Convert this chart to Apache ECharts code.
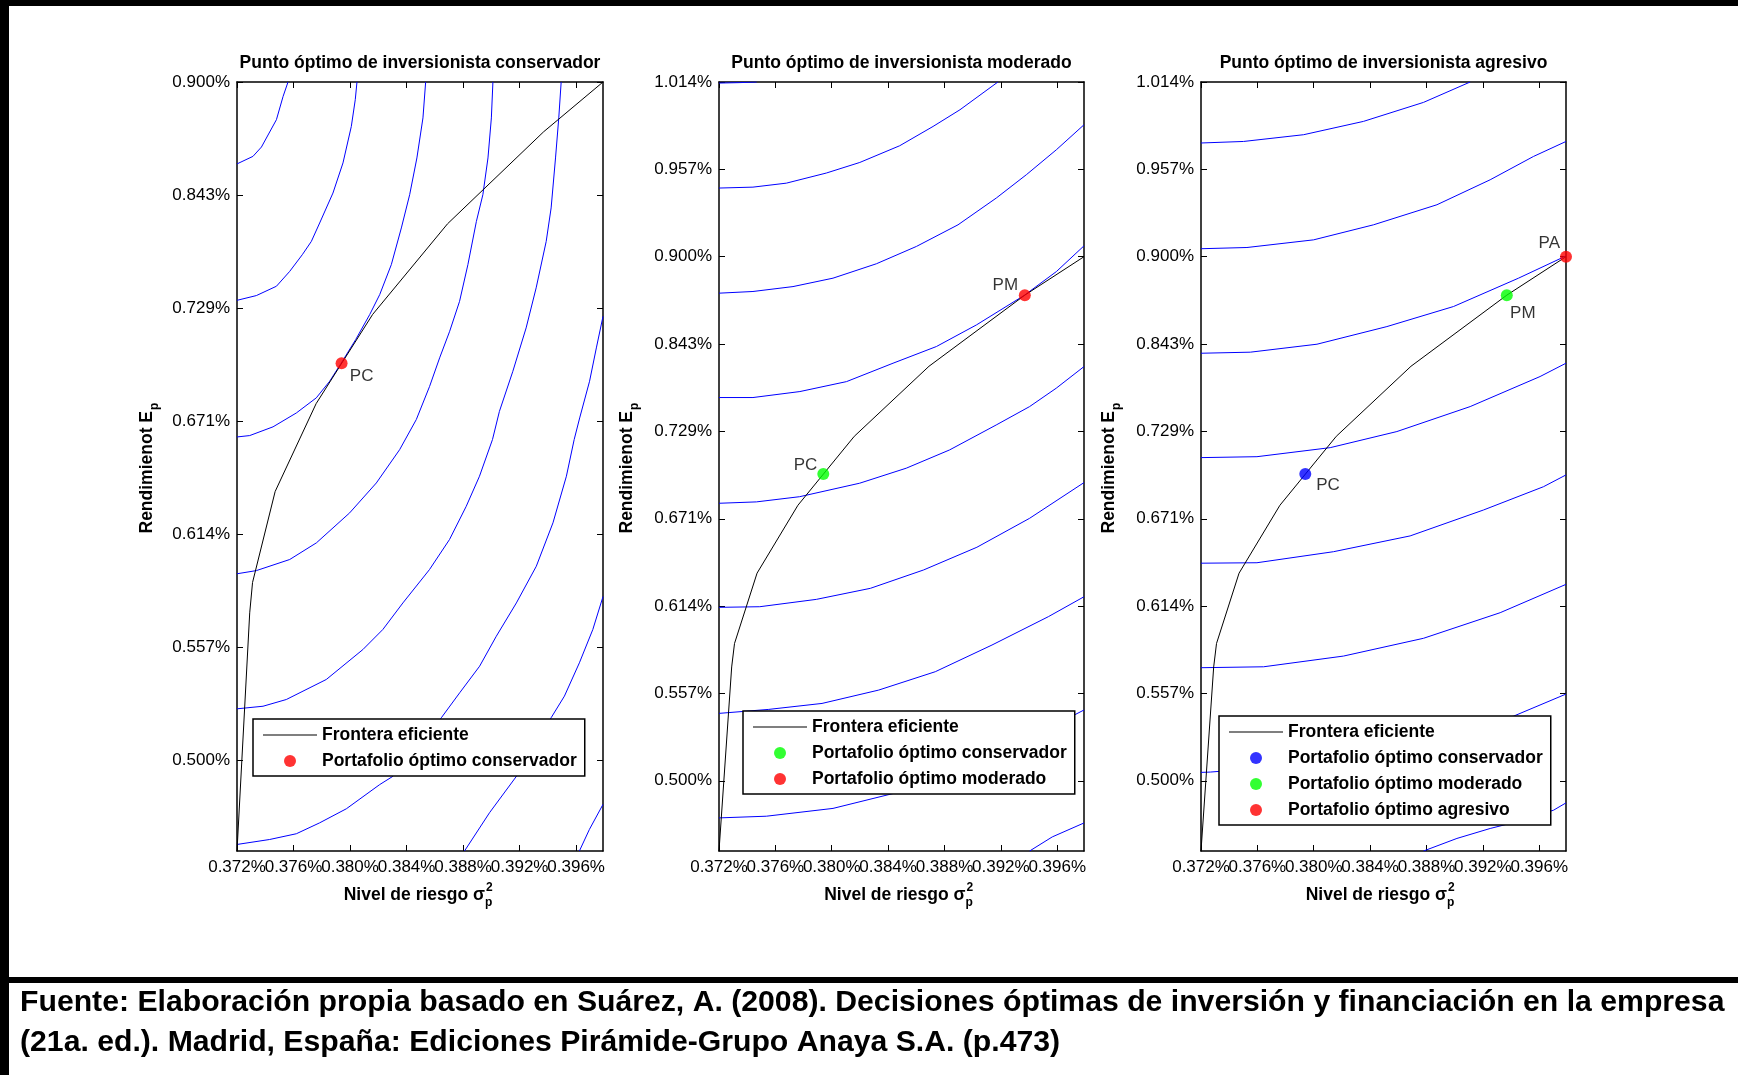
<!DOCTYPE html>
<html>
<head>
<meta charset="utf-8">
<script src="https://cdn.jsdelivr.net/npm/echarts@6/dist/echarts.min.js"></script>
<style>
  html, body { margin: 0; padding: 0; background: #ffffff; }
  #chart { width: 1738px; height: 1075px; }
</style>
</head>
<body>
<div id="chart"></div>
<script>
// ---------------------------------------------------------------
// Riesgo (eje X), común a los tres paneles
// ---------------------------------------------------------------
const riesgoMin = 0.372;
const riesgoMax = 0.3979;
const riesgoTicks = [0.372, 0.376, 0.380, 0.384, 0.388, 0.392, 0.396];
const riesgoEtiquetas = ['0.372%', '0.376%', '0.380%', '0.384%', '0.388%', '0.392%', '0.396%'];

// ---------------------------------------------------------------
// Rendimiento (eje Y)
// ---------------------------------------------------------------
const rendMin = 0.5122;
const rendMaxConservador = 0.900;
const rendMaxModerado = 1.014;
const rendTicksConservador = [0.558, 0.615, 0.672, 0.729, 0.786, 0.843, 0.900];
const rendEtiquetasConservador = ['0.500%', '0.557%', '0.614%', '0.671%', '0.729%', '0.843%', '0.900%'];
const rendTicksModerado = [0.558, 0.615, 0.672, 0.729, 0.786, 0.843, 0.900, 0.957, 1.014];
const rendEtiquetasModerado = ['0.500%', '0.557%', '0.614%', '0.671%', '0.729%', '0.843%', '0.900%', '0.957%', '1.014%'];

// ---------------------------------------------------------------
// Frontera eficiente (riesgo, rendimiento)
// ---------------------------------------------------------------
const fronteraRiesgo  = [0.3720, 0.3729, 0.3731, 0.3747, 0.3776, 0.3816, 0.3869, 0.3937, 0.3979];
const fronteraRetorno = [0.5122, 0.6323, 0.6476, 0.6935, 0.7378, 0.7828, 0.8285, 0.8749, 0.9000];

// Portafolios óptimos
const puntoPC = [0.3794, 0.7582];
const puntoPM = [0.3937, 0.8749];
const puntoPA = [0.3979, 0.9000];

// ---------------------------------------------------------------
// Curvas de indiferencia: inversionista conservador
// ---------------------------------------------------------------
const curvasConservador = [
  [[0.3720,0.8587],[0.37313,0.8625],[0.37373,0.8672],[0.37479,0.8810],[0.37526,0.8927],[0.37561,0.9000]],
  [[0.3720,0.7899],[0.37337,0.7923],[0.37479,0.7970],[0.37573,0.8045],[0.37662,0.8129],[0.37726,0.8196],[0.37785,0.8289],[0.37879,0.8440],[0.37950,0.8592],[0.38009,0.8776],[0.38037,0.8911],[0.38049,0.9000]],
  [[0.3720,0.7210],[0.37290,0.7217],[0.37455,0.7261],[0.37620,0.7331],[0.37761,0.7407],[0.37856,0.7491],[0.37938,0.7583],[0.38040,0.7701],[0.38139,0.7827],[0.38210,0.7928],[0.38292,0.8079],[0.38363,0.8264],[0.38422,0.8432],[0.38473,0.8617],[0.38516,0.8819],[0.38535,0.9000]],
  [[0.3720,0.6520],[0.37337,0.6536],[0.37573,0.6592],[0.37762,0.6676],[0.37997,0.6827],[0.38186,0.6978],[0.38351,0.7146],[0.38469,0.7298],[0.38563,0.7465],[0.38634,0.7609],[0.38705,0.7743],[0.38775,0.7894],[0.38834,0.8079],[0.38894,0.8297],[0.38940,0.8432],[0.38976,0.8617],[0.39000,0.8819],[0.39011,0.9000]],
  [[0.3720,0.5839],[0.37384,0.5852],[0.37549,0.5886],[0.37832,0.5987],[0.38091,0.6138],[0.38232,0.6239],[0.38374,0.6373],[0.38562,0.6541],[0.38704,0.6693],[0.38822,0.6860],[0.38916,0.7012],[0.39008,0.7197],[0.39057,0.7339],[0.39152,0.7541],[0.39246,0.7760],[0.39317,0.7962],[0.39388,0.8196],[0.39423,0.8365],[0.39454,0.8617],[0.39477,0.8819],[0.39494,0.9000]],
  [[0.3720,0.5155],[0.37431,0.5180],[0.37620,0.5209],[0.37785,0.5264],[0.37974,0.5335],[0.38210,0.5457],[0.38304,0.5499],[0.38479,0.5634],[0.38646,0.5794],[0.38776,0.5920],[0.38917,0.6054],[0.39035,0.6205],[0.39177,0.6373],[0.39318,0.6558],[0.39436,0.6777],[0.39531,0.7012],[0.39586,0.7197],[0.39625,0.7306],[0.39695,0.7491],[0.39743,0.7659],[0.39790,0.7818]],
  [[0.38810,0.5122],[0.38987,0.5315],[0.39187,0.5508],[0.39305,0.5649],[0.39423,0.5794],[0.39517,0.5903],[0.39623,0.6071],[0.39718,0.6239],[0.39790,0.6405]],
  [[0.39623,0.5122],[0.39694,0.5231],[0.39790,0.5357]]
];

// Curvas de indiferencia: inversionista moderado
const curvasModerado = [
  [[0.3720,1.0133],[0.37347,1.0136],[0.37467,1.0140]],
  [[0.3720,0.9448],[0.37441,0.9454],[0.37678,0.9480],[0.37962,0.9546],[0.38199,0.9615],[0.38482,0.9724],[0.38719,0.9850],[0.38910,0.9959],[0.39179,1.0140]],
  [[0.3720,0.8762],[0.37441,0.8773],[0.37725,0.8805],[0.38009,0.8860],[0.38317,0.8954],[0.38601,0.9067],[0.38896,0.9208],[0.39168,0.9383],[0.39381,0.9535],[0.39594,0.9698],[0.39790,0.9861]],
  [[0.3720,0.8081],[0.37441,0.8081],[0.37774,0.8120],[0.38105,0.8185],[0.38435,0.8305],[0.38743,0.8414],[0.39027,0.8555],[0.39368,0.8749],[0.39594,0.8903],[0.39790,0.9071]],
  [[0.3720,0.7391],[0.37465,0.7400],[0.37772,0.7434],[0.38198,0.7522],[0.38529,0.7620],[0.38836,0.7739],[0.39167,0.7902],[0.39404,0.8022],[0.39593,0.8142],[0.39790,0.8283]],
  [[0.3720,0.6712],[0.37489,0.6716],[0.37891,0.6764],[0.38274,0.6836],[0.38652,0.6956],[0.39030,0.7104],[0.39404,0.7293],[0.39790,0.7526]],
  [[0.3720,0.6020],[0.37553,0.6046],[0.37931,0.6085],[0.38333,0.6172],[0.38735,0.6292],[0.39137,0.6466],[0.39537,0.6651],[0.39790,0.6781]],
  [[0.3720,0.5338],[0.37536,0.5349],[0.38009,0.5400],[0.38435,0.5497],[0.38837,0.5637],[0.39263,0.5793],[0.39790,0.6042]],
  [[0.39404,0.5122],[0.39565,0.5214],[0.39790,0.5305]]
];

// Curvas de indiferencia: inversionista agresivo
const curvasAgresivo = [
  [[0.3720,0.9742],[0.37502,0.9752],[0.37928,0.9796],[0.38353,0.9883],[0.38779,1.0007],[0.39110,1.0140]],
  [[0.3720,0.9052],[0.37526,0.9060],[0.37999,0.9110],[0.38424,0.9208],[0.38874,0.9339],[0.39252,0.9502],[0.39559,0.9654],[0.39790,0.9752]],
  [[0.3720,0.8370],[0.37550,0.8377],[0.38023,0.8429],[0.38519,0.8544],[0.38992,0.8675],[0.39453,0.8860],[0.39790,0.9005]],
  [[0.3720,0.7689],[0.37597,0.7695],[0.38117,0.7754],[0.38590,0.7859],[0.39110,0.8022],[0.39606,0.8218],[0.39790,0.8305]],
  [[0.3720,0.7000],[0.37597,0.7003],[0.38140,0.7075],[0.38684,0.7178],[0.39204,0.7347],[0.39630,0.7499],[0.39790,0.7576]],
  [[0.3720,0.6318],[0.37644,0.6324],[0.38211,0.6394],[0.38779,0.6510],[0.39323,0.6677],[0.39790,0.6862]],
  [[0.3720,0.5635],[0.37266,0.5637],[0.37902,0.5683],[0.38611,0.5810],[0.39418,0.6002],[0.39790,0.6146]],
  [[0.38779,0.5122],[0.39016,0.5204],[0.39252,0.5269],[0.39394,0.5302],[0.39701,0.5388],[0.39790,0.5436]]
];

// ---------------------------------------------------------------
// Estilos y maquetación
// ---------------------------------------------------------------
const FAMILIA = '"Liberation Sans", Arial, Helvetica, sans-serif';
const ROJO = '#ff0000', VERDE = '#00ff00', AZUL = '#0000ff';
const NOMBRE_FRONTERA = 'Frontera eficiente';
const NOMBRE_PC = 'Portafolio óptimo conservador';
const NOMBRE_PM = 'Portafolio óptimo moderado';
const NOMBRE_PA = 'Portafolio óptimo agresivo';
// trazo horizontal fino para la muestra de la frontera en la leyenda
const ICONO_LINEA = 'path://M0,0 L54,0 L54,1 L0,1 Z';

const paneles = [
  {
    left: 237, width: 366,
    titulo: 'Punto óptimo de inversionista conservador',
    yMax: rendMaxConservador, yTicks: rendTicksConservador, yEtiquetas: rendEtiquetasConservador,
    curvas: curvasConservador,
    puntos: [
      { nombre: NOMBRE_PC, color: ROJO, valor: puntoPC, texto: 'PC', pos: [14.3, 18.7], align: 'left' }
    ],
    leyenda: { left: 253, top: 719 },
    xFinEtiqueta: 485, yEtiquetaX: 147
  },
  {
    left: 719, width: 365,
    titulo: 'Punto óptimo de inversionista moderado',
    yMax: rendMaxModerado, yTicks: rendTicksModerado, yEtiquetas: rendEtiquetasModerado,
    curvas: curvasModerado,
    puntos: [
      { nombre: NOMBRE_PC, color: VERDE, valor: puntoPC, texto: 'PC', pos: [0, -2.8], align: 'right' },
      { nombre: NOMBRE_PM, color: ROJO, valor: puntoPM, texto: 'PM', pos: [-0.7, -4.3], align: 'right' }
    ],
    leyenda: { left: 743, top: 711 },
    xFinEtiqueta: 965.5, yEtiquetaX: 627
  },
  {
    left: 1201, width: 365,
    titulo: 'Punto óptimo de inversionista agresivo',
    yMax: rendMaxModerado, yTicks: rendTicksModerado, yEtiquetas: rendEtiquetasModerado,
    curvas: curvasAgresivo,
    puntos: [
      { nombre: NOMBRE_PC, color: AZUL, valor: puntoPC, texto: 'PC', pos: [17, 17.7], align: 'left' },
      { nombre: NOMBRE_PM, color: VERDE, valor: puntoPM, texto: 'PM', pos: [9.3, 23.7], align: 'left' },
      { nombre: NOMBRE_PA, color: ROJO, valor: puntoPA, texto: 'PA', pos: [0, -7.7], align: 'right' }
    ],
    leyenda: { left: 1219, top: 716 },
    xFinEtiqueta: 1447, yEtiquetaX: 1109
  }
];

const GRID_TOP = 82, GRID_H = 769;

function etiquetaMasCercana(ticks, etiquetas, v) {
  let mejor = 0;
  for (let i = 1; i < ticks.length; i++) {
    if (Math.abs(ticks[i] - v) < Math.abs(ticks[mejor] - v)) mejor = i;
  }
  return etiquetas[mejor];
}

// las etiquetas de riesgo se tocan entre sí; se reparten en dos ejes
// (posiciones pares e impares) para que ninguna quede oculta
const riesgoTicksPares = riesgoTicks.filter((_, k) => k % 2 === 0);
const riesgoTicksImpares = riesgoTicks.filter((_, k) => k % 2 === 1);

const lineaEje = { show: true, onZero: false, lineStyle: { color: '#000', width: 1.5 } };
const estiloTick = { color: '#000', width: 1 };
const estiloEtiqueta = { fontFamily: FAMILIA, fontSize: 17, color: '#000' };

const grids = [], xAxes = [], yAxes = [], series = [], legends = [], graphics = [];

paneles.forEach((p, i) => {
  grids.push({ left: p.left, top: GRID_TOP, width: p.width, height: GRID_H, containLabel: false });

  const formatoRiesgo = v => etiquetaMasCercana(riesgoTicks, riesgoEtiquetas, v);

  // eje inferior: línea, marcas y etiquetas pares
  xAxes.push({
    type: 'value', gridIndex: i, position: 'bottom', min: riesgoMin, max: riesgoMax,
    axisLine: lineaEje,
    axisTick: { show: true, inside: true, length: 6, customValues: riesgoTicks, lineStyle: estiloTick },
    axisLabel: Object.assign({
      customValues: riesgoTicksPares, margin: 8, showMinLabel: true, showMaxLabel: true, hideOverlap: false,
      formatter: formatoRiesgo
    }, estiloEtiqueta),
    splitLine: { show: false }
  });
  // eje superior espejo
  xAxes.push({
    type: 'value', gridIndex: i, position: 'top', min: riesgoMin, max: riesgoMax,
    axisLine: lineaEje,
    axisTick: { show: true, inside: true, length: 6, customValues: riesgoTicks, lineStyle: estiloTick },
    axisLabel: { show: false },
    splitLine: { show: false }
  });
  // eje inferior auxiliar: sólo etiquetas impares
  xAxes.push({
    type: 'value', gridIndex: i, position: 'bottom', offset: 0, min: riesgoMin, max: riesgoMax,
    axisLine: { show: false }, axisTick: { show: false },
    axisLabel: Object.assign({
      customValues: riesgoTicksImpares, margin: 8, showMinLabel: true, showMaxLabel: true, hideOverlap: false,
      formatter: formatoRiesgo
    }, estiloEtiqueta),
    splitLine: { show: false }
  });

  // eje izquierdo con etiquetas y eje derecho espejo
  ['left', 'right'].forEach(pos => {
    yAxes.push({
      type: 'value', gridIndex: i, position: pos, min: rendMin, max: p.yMax,
      axisLine: lineaEje,
      axisTick: { show: true, inside: true, length: 6, customValues: p.yTicks, lineStyle: estiloTick },
      axisLabel: Object.assign({
        show: pos === 'left', customValues: p.yTicks, margin: 7,
        showMinLabel: true, showMaxLabel: true, hideOverlap: false,
        formatter: v => etiquetaMasCercana(p.yTicks, p.yEtiquetas, v)
      }, estiloEtiqueta),
      splitLine: { show: false }
    });
  });

  const xi = 3 * i, yi = 2 * i;

  p.curvas.forEach(curva => {
    series.push({
      type: 'line', name: 'Curva de indiferencia', xAxisIndex: xi, yAxisIndex: yi,
      data: curva, symbol: 'none', silent: true, z: 2,
      lineStyle: { color: AZUL, width: 1 }, itemStyle: { color: AZUL }
    });
  });

  series.push({
    type: 'line', name: NOMBRE_FRONTERA, xAxisIndex: xi, yAxisIndex: yi,
    data: fronteraRiesgo.map((r, k) => [r, fronteraRetorno[k]]),
    symbol: 'none', silent: true, z: 3,
    lineStyle: { color: '#000', width: 1 }, itemStyle: { color: '#000' }
  });

  p.puntos.forEach(pt => {
    series.push({
      type: 'scatter', name: pt.nombre, xAxisIndex: xi, yAxisIndex: yi,
      symbol: 'circle', symbolSize: 12, z: 5, clip: false, silent: true,
      itemStyle: { color: pt.color },
      data: [{ value: pt.valor, name: pt.texto }],
      label: {
        show: true, formatter: '{b}', position: pt.pos, align: pt.align, verticalAlign: 'middle',
        fontFamily: FAMILIA, fontSize: 17, color: '#000'
      }
    });
  });

  legends.push({
    orient: 'vertical', left: p.leyenda.left, top: p.leyenda.top,
    padding: [7, 8, 6, 10], itemGap: 8, itemWidth: 54, itemHeight: 12,
    backgroundColor: '#fff', borderColor: '#000', borderWidth: 1.5, borderRadius: 0,
    selectedMode: false, z: 10,
    textStyle: { fontFamily: FAMILIA, fontSize: 17.5, fontWeight: 'bold', color: '#000' },
    data: [{ name: NOMBRE_FRONTERA, icon: ICONO_LINEA, itemStyle: { color: '#000', borderWidth: 0 } }]
      .concat(p.puntos.map(pt => ({ name: pt.nombre, icon: 'circle', itemStyle: { color: pt.color } })))
  });

  // título del panel
  const centro = p.left + p.width / 2;
  graphics.push({
    type: 'text', x: centro, y: 63,
    style: { text: p.titulo, font: 'bold 17.5px ' + FAMILIA, fill: '#000',
             align: 'center', verticalAlign: 'middle', textAlign: 'center', textVerticalAlign: 'middle' }
  });

  // nombre del eje X: Nivel de riesgo σ con superíndice 2 y subíndice p
  graphics.push({
    type: 'text', x: p.xFinEtiqueta, y: 895,
    style: { text: 'Nivel de riesgo σ', font: 'bold 17.5px ' + FAMILIA, fill: '#000',
             align: 'right', verticalAlign: 'middle', textAlign: 'right', textVerticalAlign: 'middle' }
  });
  graphics.push({
    type: 'text', x: p.xFinEtiqueta + 1, y: 888,
    style: { text: '2', font: 'bold 12px ' + FAMILIA, fill: '#000',
             align: 'left', verticalAlign: 'middle', textAlign: 'left', textVerticalAlign: 'middle' }
  });
  graphics.push({
    type: 'text', x: p.xFinEtiqueta, y: 903,
    style: { text: 'p', font: 'bold 12px ' + FAMILIA, fill: '#000',
             align: 'left', verticalAlign: 'middle', textAlign: 'left', textVerticalAlign: 'middle' }
  });

  // nombre del eje Y: Rendimienot E con subíndice p (texto vertical)
  graphics.push({
    type: 'text', x: p.yEtiquetaX, y: 411, rotation: Math.PI / 2,
    style: { text: 'Rendimienot E', font: 'bold 17.5px ' + FAMILIA, fill: '#000',
             align: 'right', verticalAlign: 'middle', textAlign: 'right', textVerticalAlign: 'middle' }
  });
  graphics.push({
    type: 'text', x: p.yEtiquetaX + 8, y: 410, rotation: Math.PI / 2,
    style: { text: 'p', font: 'bold 12px ' + FAMILIA, fill: '#000',
             align: 'left', verticalAlign: 'middle', textAlign: 'left', textVerticalAlign: 'middle' }
  });
});

// marco de la figura y nota de fuente
graphics.push(
  { type: 'rect', shape: { x: 0, y: 0, width: 1738, height: 6 }, style: { fill: '#000' } },
  { type: 'rect', shape: { x: 0, y: 0, width: 9, height: 1075 }, style: { fill: '#000' } },
  { type: 'rect', shape: { x: 0, y: 977, width: 1738, height: 6 }, style: { fill: '#000' } },
  {
    type: 'text', x: 20, y: 1003,
    style: { text: 'Fuente: Elaboración propia basado en Suárez, A. (2008). Decisiones óptimas de inversión y financiación en la empresa',
             font: 'bold 30.2px ' + FAMILIA, fill: '#000',
             align: 'left', verticalAlign: 'middle', textAlign: 'left', textVerticalAlign: 'middle' }
  },
  {
    type: 'text', x: 20, y: 1043,
    style: { text: '(21a. ed.). Madrid, España: Ediciones Pirámide-Grupo Anaya S.A. (p.473)',
             font: 'bold 30.2px ' + FAMILIA, fill: '#000',
             align: 'left', verticalAlign: 'middle', textAlign: 'left', textVerticalAlign: 'middle' }
  }
);

const chart = echarts.init(document.getElementById('chart'), null, { renderer: 'canvas' });
chart.setOption({
  backgroundColor: '#ffffff',
  animation: false,
  grid: grids,
  xAxis: xAxes,
  yAxis: yAxes,
  legend: legends,
  series: series,
  graphic: graphics
});
</script>
</body>
</html>
